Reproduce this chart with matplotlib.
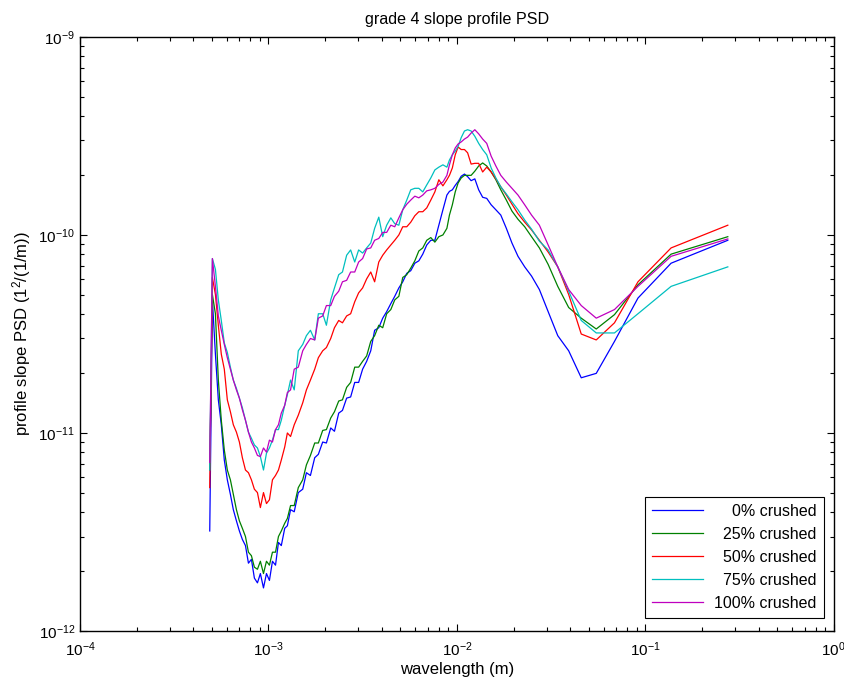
import numpy as np
import matplotlib
matplotlib.use("Agg")
import matplotlib.pyplot as plt
from matplotlib.ticker import LogLocator, NullFormatter

plt.rcParams['font.family'] = ['Liberation Sans', 'DejaVu Sans']
plt.rcParams['mathtext.fontset'] = 'custom'
plt.rcParams['mathtext.rm'] = 'Liberation Sans'
plt.rcParams['mathtext.it'] = 'Liberation Sans:italic'
plt.rcParams['font.size'] = 10

# wavelength (m), shared by all five curves
wavelength = [4.88e-4, 5.04e-4, 5.23e-4, 5.42e-4, 5.62e-4, 5.83e-4, 6.05e-4, 6.28e-4, 6.51e-4, 6.76e-4,
              7.01e-4, 7.27e-4, 7.55e-4, 7.83e-4, 8.12e-4, 8.42e-4, 8.74e-4, 9.06e-4, 9.41e-4, 9.76e-4,
              1.012e-3, 1.05e-3, 1.09e-3, 1.13e-3, 1.17e-3, 1.22e-3, 1.26e-3, 1.31e-3,
              1.37e-3, 1.44e-3, 1.52e-3, 1.59e-3, 1.67e-3, 1.76e-3, 1.84e-3, 1.94e-3, 2.03e-3, 2.14e-3,
              2.24e-3, 2.36e-3, 2.47e-3, 2.60e-3, 2.73e-3, 2.87e-3, 3.01e-3, 3.16e-3, 3.32e-3, 3.49e-3,
              3.66e-3, 3.85e-3, 4.04e-3, 4.24e-3, 4.46e-3, 4.68e-3, 4.92e-3, 5.16e-3, 5.42e-3, 5.69e-3,
              5.98e-3, 6.28e-3, 6.59e-3, 6.92e-3, 7.27e-3, 7.64e-3, 8.02e-3, 8.43e-3, 8.85e-3,
              9.13e-3, 9.46e-3, 9.80e-3, 1.015e-2, 1.054e-2, 1.097e-2, 1.14e-2, 1.19e-2, 1.245e-2, 1.305e-2,
              1.37e-2, 1.44e-2, 1.52e-2, 1.61e-2, 1.71e-2, 1.83e-2, 1.96e-2, 2.11e-2, 2.29e-2, 2.49e-2,
              2.74e-2, 3.05e-2, 3.43e-2, 3.92e-2, 4.57e-2, 5.49e-2, 6.86e-2, 9.14e-2, 0.137, 0.274]

psd_0 = [3.2e-12, 4.7e-11, 2.5e-11, 1.47e-11, 1.1e-11, 7.3e-12, 5.8e-12, 4.9e-12, 4.1e-12, 3.6e-12,
         3.2e-12, 2.9e-12, 2.7e-12, 2.2e-12, 2.3e-12, 1.85e-12, 1.75e-12, 1.95e-12, 1.65e-12, 1.95e-12,
         1.8e-12, 2.25e-12, 2.15e-12, 2.8e-12, 2.7e-12, 3.3e-12, 3.4e-12, 4.1e-12,
         4.0e-12, 5.0e-12, 5.2e-12, 6.3e-12, 6.1e-12, 7.5e-12, 7.8e-12, 9.0e-12, 8.9e-12, 1.06e-11,
         1.02e-11, 1.26e-11, 1.30e-11, 1.5e-11, 1.52e-11, 1.8e-11, 1.8e-11, 2.1e-11, 2.3e-11, 2.6e-11,
         3.3e-11, 3.4e-11, 3.8e-11, 4.1e-11, 4.5e-11, 4.9e-11, 5.4e-11, 5.8e-11, 6.4e-11, 6.6e-11,
         7.2e-11, 7.4e-11, 8.0e-11, 8.9e-11, 9.4e-11, 9.4e-11, 1.12e-10, 1.34e-10, 1.59e-10,
         1.66e-10, 1.69e-10, 1.78e-10, 1.86e-10, 1.98e-10, 2.03e-10, 1.97e-10, 1.88e-10, 1.92e-10, 1.69e-10,
         1.55e-10, 1.53e-10, 1.42e-10, 1.34e-10, 1.26e-10, 1.08e-10, 9.1e-11, 7.8e-11, 6.9e-11, 6.2e-11,
         5.3e-11, 4.1e-11, 3.1e-11, 2.6e-11, 1.9e-11, 2.0e-11, 2.9e-11, 4.8e-11, 7.2e-11, 9.4e-11]

psd_25 = [6.5e-12, 5.0e-11, 4.0e-11, 1.85e-11, 1.16e-11, 8.2e-12, 6.5e-12, 5.8e-12, 4.9e-12, 4.1e-12,
          3.6e-12, 3.3e-12, 3.0e-12, 2.5e-12, 2.4e-12, 2.1e-12, 2.05e-12, 2.25e-12, 1.95e-12, 2.25e-12,
          2.15e-12, 2.5e-12, 2.5e-12, 3.0e-12, 3.2e-12, 3.5e-12, 3.7e-12, 4.3e-12,
          4.3e-12, 5.3e-12, 5.8e-12, 6.9e-12, 7.7e-12, 8.9e-12, 8.9e-12, 1.03e-11, 1.04e-11, 1.19e-11,
          1.28e-11, 1.45e-11, 1.47e-11, 1.7e-11, 1.8e-11, 2.15e-11, 2.15e-11, 2.3e-11, 2.45e-11, 2.9e-11,
          3.1e-11, 3.5e-11, 3.4e-11, 4.0e-11, 4.2e-11, 4.7e-11, 4.9e-11, 6.1e-11, 6.3e-11, 6.8e-11,
          7.4e-11, 8.3e-11, 8.6e-11, 9.4e-11, 9.7e-11, 9.2e-11, 9.8e-11, 1.0e-10, 1.08e-10,
          1.26e-10, 1.42e-10, 1.65e-10, 1.83e-10, 1.94e-10, 2.0e-10, 2.0e-10, 2.0e-10, 2.1e-10, 2.23e-10,
          2.31e-10, 2.23e-10, 2.08e-10, 1.9e-10, 1.69e-10, 1.5e-10, 1.32e-10, 1.2e-10, 1.1e-10, 9.8e-11,
          8.6e-11, 7.1e-11, 5.5e-11, 4.3e-11, 3.8e-11, 3.35e-11, 3.96e-11, 5.6e-11, 8.0e-11, 9.8e-11]

psd_50 = [5.3e-12, 6.1e-11, 5.0e-11, 3.5e-11, 2.5e-11, 2.1e-11, 1.47e-11, 1.28e-11, 1.1e-11, 1.01e-11,
          9.0e-12, 7.5e-12, 6.5e-12, 6.3e-12, 5.8e-12, 5.2e-12, 5.0e-12, 4.2e-12, 5.0e-12, 4.4e-12,
          4.6e-12, 5.8e-12, 6.1e-12, 6.5e-12, 7.3e-12, 8.5e-12, 1.0e-11, 9.6e-12,
          1.1e-11, 1.23e-11, 1.42e-11, 1.65e-11, 1.85e-11, 2.1e-11, 2.4e-11, 2.6e-11, 2.7e-11, 3.0e-11,
          3.4e-11, 3.7e-11, 3.6e-11, 3.9e-11, 4.0e-11, 4.6e-11, 5.1e-11, 5.4e-11, 6.0e-11, 6.5e-11,
          5.8e-11, 7.3e-11, 7.9e-11, 8.4e-11, 8.9e-11, 9.4e-11, 1.0e-10, 1.1e-10, 1.1e-10, 1.16e-10,
          1.25e-10, 1.31e-10, 1.31e-10, 1.37e-10, 1.5e-10, 1.65e-10, 1.9e-10, 1.77e-10, 1.9e-10,
          2.0e-10, 2.18e-10, 2.54e-10, 2.78e-10, 2.7e-10, 2.7e-10, 2.6e-10, 2.28e-10, 2.3e-10, 2.3e-10,
          2.08e-10, 2.2e-10, 2.08e-10, 1.92e-10, 1.75e-10, 1.59e-10, 1.43e-10, 1.28e-10, 1.16e-10, 1.06e-10,
          9.4e-11, 8.2e-11, 6.9e-11, 5.0e-11, 3.16e-11, 2.95e-11, 3.6e-11, 5.8e-11, 8.6e-11, 1.12e-10]

psd_75 = [6.5e-12, 7.6e-11, 6.7e-11, 4.7e-11, 3.7e-11, 2.85e-11, 2.55e-11, 2.15e-11, 1.85e-11, 1.68e-11,
          1.5e-11, 1.34e-11, 1.16e-11, 1.01e-11, 9.4e-12, 8.7e-12, 8.4e-12, 7.6e-12, 6.5e-12, 7.9e-12,
          8.4e-12, 9.2e-12, 1.04e-11, 1.04e-11, 1.16e-11, 1.38e-11, 1.56e-11, 1.85e-11,
          1.65e-11, 2.6e-11, 2.8e-11, 3.1e-11, 3.3e-11, 2.95e-11, 4.0e-11, 4.0e-11, 3.5e-11, 4.7e-11,
          5.4e-11, 6.3e-11, 6.5e-11, 7.9e-11, 8.4e-11, 7.3e-11, 8.4e-11, 8.1e-11, 8.6e-11, 9.1e-11,
          1.08e-10, 1.23e-10, 9.8e-11, 1.12e-10, 1.22e-10, 1.14e-10, 1.12e-10, 1.34e-10, 1.5e-10, 1.69e-10,
          1.72e-10, 1.72e-10, 1.65e-10, 1.79e-10, 1.94e-10, 2.13e-10, 2.2e-10, 2.26e-10, 2.2e-10,
          2.39e-10, 2.54e-10, 2.65e-10, 2.8e-10, 3.1e-10, 3.35e-10, 3.4e-10, 3.35e-10, 3.15e-10, 2.9e-10,
          2.7e-10, 2.54e-10, 2.18e-10, 1.94e-10, 1.75e-10, 1.61e-10, 1.47e-10, 1.34e-10, 1.19e-10, 1.07e-10,
          9.3e-11, 8.4e-11, 6.9e-11, 5.2e-11, 3.7e-11, 3.2e-11, 3.2e-11, 4.0e-11, 5.5e-11, 6.9e-11]

psd_100 = [7.1e-12, 7.6e-11, 5.5e-11, 3.9e-11, 3.3e-11, 2.8e-11, 2.4e-11, 2.1e-11, 1.85e-11, 1.65e-11,
           1.5e-11, 1.31e-11, 1.16e-11, 1.01e-11, 9.0e-12, 8.4e-12, 7.7e-12, 7.6e-12, 8.4e-12, 8.0e-12,
           9.2e-12, 9.0e-12, 1.04e-11, 1.1e-11, 1.26e-11, 1.38e-11, 1.6e-11, 1.65e-11,
           2.1e-11, 2.15e-11, 2.6e-11, 2.8e-11, 3.0e-11, 2.95e-11, 3.8e-11, 3.9e-11, 4.4e-11, 4.4e-11,
           4.9e-11, 5.2e-11, 5.8e-11, 5.9e-11, 6.5e-11, 6.5e-11, 7.3e-11, 7.6e-11, 8.5e-11, 8.6e-11,
           9.4e-11, 9.6e-11, 1.03e-10, 1.03e-10, 1.12e-10, 1.1e-10, 1.22e-10, 1.34e-10, 1.43e-10, 1.5e-10,
           1.57e-10, 1.54e-10, 1.59e-10, 1.67e-10, 1.69e-10, 1.72e-10, 1.8e-10, 1.85e-10, 2.0e-10,
           2.26e-10, 2.54e-10, 2.75e-10, 2.88e-10, 2.95e-10, 3.05e-10, 3.12e-10, 3.27e-10, 3.4e-10, 3.24e-10,
           3.05e-10, 2.9e-10, 2.5e-10, 2.23e-10, 2.0e-10, 1.85e-10, 1.72e-10, 1.59e-10, 1.42e-10, 1.26e-10,
           1.12e-10, 8.9e-11, 6.9e-11, 5.3e-11, 4.4e-11, 3.8e-11, 4.2e-11, 5.5e-11, 7.8e-11, 9.55e-11]

labels = ['    0% crushed', '  25% crushed', '  50% crushed', '  75% crushed', '100% crushed']
colors = ['#0000ff', '#008000', '#ff0000', '#00bfbf', '#bf00bf']

fig = plt.figure(figsize=(8.45, 6.84), dpi=100)
ax = fig.add_axes([0.0947, 0.0775, 0.892, 0.8685])

for y, lab, c in zip([psd_0, psd_25, psd_50, psd_75, psd_100], labels, colors):
    ax.loglog(wavelength, y, color=c, lw=0.9, label=lab)

ax.set_xlim(1e-4, 1)
ax.set_ylim(1e-12, 1e-9)
ax.xaxis.set_major_locator(LogLocator(base=10, numticks=10))
ax.yaxis.set_major_locator(LogLocator(base=10, numticks=10))
ax.xaxis.set_minor_locator(LogLocator(base=10, subs=np.arange(2, 10), numticks=20))
ax.yaxis.set_minor_locator(LogLocator(base=10, subs=np.arange(2, 10), numticks=20))
ax.xaxis.set_minor_formatter(NullFormatter())
ax.yaxis.set_minor_formatter(NullFormatter())
ax.tick_params(which='both', direction='in', top=True, right=True, labelsize=11)
ax.tick_params(axis='x', which='major', pad=7)
ax.tick_params(which='major', length=5, width=0.8)
ax.tick_params(which='minor', length=3, width=0.8)
for s in ax.spines.values():
    s.set_linewidth(1.0)

ax.set_title('grade 4 slope profile PSD', fontsize=11.6, pad=9)
ax.set_xlabel('wavelength (m)', fontsize=12, labelpad=2)
ax.set_ylabel('profile slope PSD (1$^2$/(1/m))', fontsize=12, labelpad=4)

leg = ax.legend(loc='lower right', bbox_to_anchor=(0.987, 0.022), borderaxespad=0,
                fancybox=False, edgecolor='black', framealpha=1, fontsize=11.5,
                handlelength=3.2, labelspacing=0.5, borderpad=0.45, handletextpad=0.7)
leg.get_frame().set_linewidth(0.8)

fig.savefig('out.png', dpi=100)
